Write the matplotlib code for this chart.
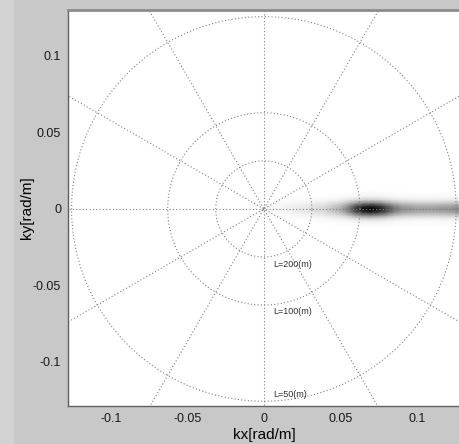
import numpy as np
import matplotlib.pyplot as plt
from matplotlib.patches import Rectangle

# wavenumber spectrum with polar wavelength grid
plt.rcParams['font.family'] = ['Liberation Sans', 'DejaVu Sans']

# intensity along ky = 0 (0 = white, 1 = black)
kx_pts = [-0.13, -0.01, 0.0, 0.01, 0.02, 0.03, 0.04, 0.05, 0.055, 0.06, 0.065,
          0.07, 0.075, 0.08, 0.085, 0.09, 0.10, 0.11, 0.12, 0.13]
kx_int = [0.0, 0.0, 0.02, 0.04, 0.07, 0.11, 0.17, 0.32, 0.5, 0.78, 0.95,
          1.0, 0.92, 0.75, 0.56, 0.45, 0.38, 0.38, 0.42, 0.48]
# cross-section across the streak
ky_pts = [-0.012, -0.008, -0.006, -0.004, -0.002, 0.0, 0.002, 0.004, 0.006, 0.008, 0.012]
ky_int = [0.0, 0.06, 0.2, 0.5, 0.85, 1.0, 0.85, 0.5, 0.2, 0.06, 0.0]

# wavelength circles and spokes
wavelengths = [200, 100, 50]
label_y = [-0.036, -0.067, -0.121]
spoke_deg = np.arange(0, 180, 30)

lim = 0.128

fig = plt.figure(figsize=(4.59, 4.44), dpi=100, facecolor='#c8c8c8')
fig.patches.append(Rectangle((0, 0), 14 / 459, 1, transform=fig.transFigure,
                             facecolor='#d2d2d2', edgecolor='none', zorder=0))
ax = fig.add_axes([68 / 459, 38 / 444, 392 / 459, 396 / 444])
ax.set_facecolor('white')

# spectrum: cells from the read profiles, smoothly shaded
cells = np.outer(ky_int, kx_int)
ax.pcolormesh(kx_pts, ky_pts, cells, cmap='gray_r', vmin=0, vmax=1,
              shading='gouraud', zorder=1)

dot = dict(color='#808080', lw=0.8, ls=(0, (1, 2)), zorder=2)
t = np.linspace(0, 2 * np.pi, 400)
for L, ly in zip(wavelengths, label_y):
    r = 2 * np.pi / L
    ax.plot(r * np.cos(t), r * np.sin(t), **dot)
    ax.text(0.006, ly, f'L={L}(m)', fontsize=6.5, ha='left', va='center',
            color='#303030', zorder=3)
for a in np.deg2rad(spoke_deg):
    ax.plot([-0.2 * np.cos(a), 0.2 * np.cos(a)],
            [-0.2 * np.sin(a), 0.2 * np.sin(a)], **dot)

ax.set_xlim(-lim, lim + 0.0002)
ax.set_ylim(-0.1288, 0.130)
ax.set_xticks([-0.1, -0.05, 0, 0.05, 0.1])
ax.set_xticklabels(['-0.1', '-0.05', '0', '0.05', '0.1'])
ax.set_yticks([-0.1, -0.05, 0, 0.05, 0.1])
ax.set_yticklabels(['-0.1', '-0.05', '0', '0.05', '0.1'])
ax.tick_params(length=0, labelsize=9, pad=5, colors='#1a1a1a')
ax.set_xlabel('kx[rad/m]', fontsize=11, va='center')
ax.set_ylabel('ky[rad/m]', fontsize=11, va='center', ha='center')
ax.xaxis.set_label_coords(0.5, -29 / 396)
ax.yaxis.set_label_coords(-41 / 392, 0.5)

for s in ['left', 'bottom']:
    ax.spines[s].set_color('#606060')
    ax.spines[s].set_linewidth(1.0)
ax.spines['top'].set_color('#8c8c8c')
ax.spines['top'].set_linewidth(2.0)
ax.spines['right'].set_visible(False)

fig.savefig('out.png', dpi=100, facecolor=fig.get_facecolor())
